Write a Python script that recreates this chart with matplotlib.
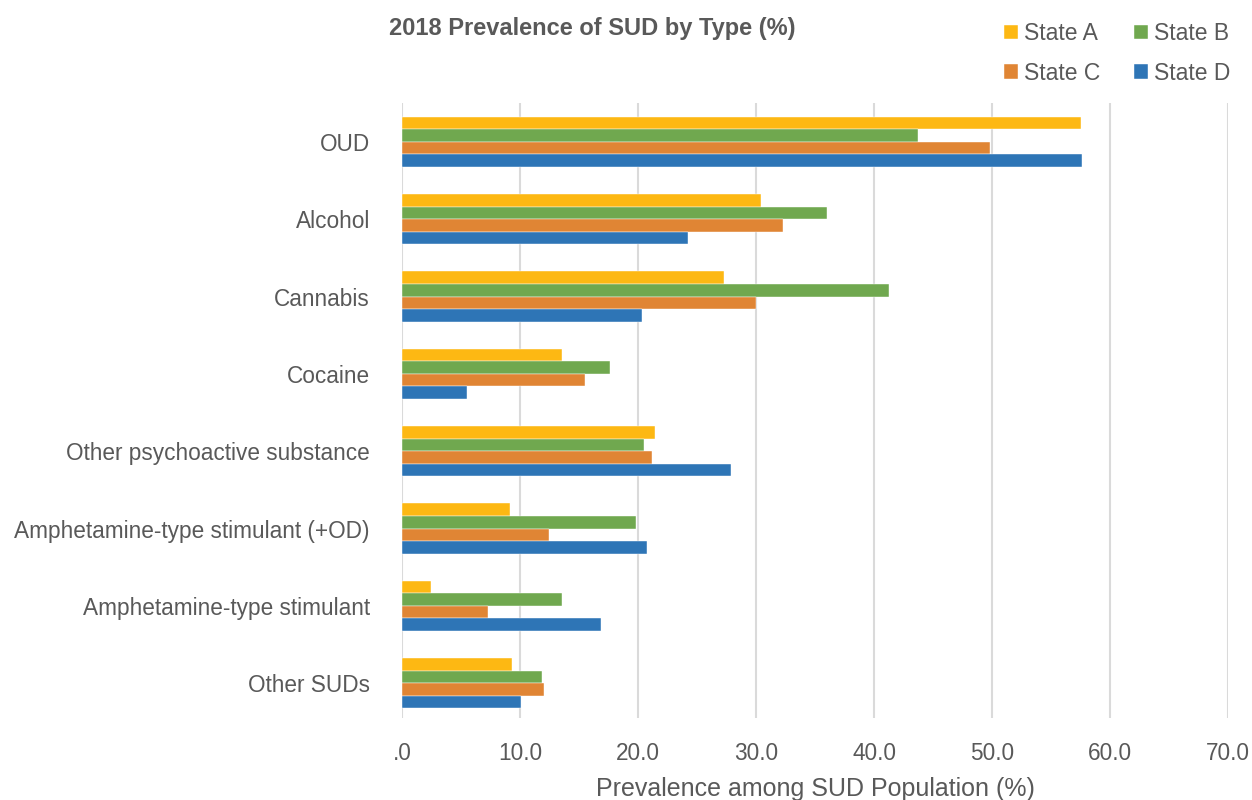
import matplotlib.pyplot as plt
from matplotlib.ticker import FuncFormatter
import numpy as np

categories = ["OUD", "Alcohol", "Cannabis", "Cocaine", "Other psychoactive substance",
              "Amphetamine-type stimulant (+OD)", "Amphetamine-type stimulant", "Other SUDs"]
state_a = [57.5, 30.4, 27.3, 13.6, 21.4, 9.2, 2.5, 9.3]
state_b = [43.7, 36.0, 41.3, 17.6, 20.5, 19.8, 13.6, 11.9]
state_c = [49.8, 32.3, 30.0, 15.5, 21.2, 12.5, 7.3, 12.0]
state_d = [57.6, 24.2, 20.3, 5.5, 27.9, 20.8, 16.9, 10.1]
series_names = ["State A", "State B", "State C", "State D"]
colors = ["#FDB813", "#70A84F", "#E08534", "#2E75B6"]

plt.rcParams['font.family'] = ['Liberation Sans', 'DejaVu Sans']
GREY = "#595959"

fig = plt.figure(figsize=(12.52, 8), dpi=100)
ax = fig.add_axes([0.321, 0.1025, 0.66, 0.7685])

y = np.arange(len(categories))
h = 0.163
bars = []
for k, (vals, name, col) in enumerate(zip([state_a, state_b, state_c, state_d], series_names, colors)):
    b = ax.barh(y + (k - 1.5) * h, vals, height=h, color=col, label=name,
                edgecolor="white", linewidth=0.3, zorder=3)
    bars.append(b)

ax.set_ylim(7.45, -0.5)
ax.set_xlim(0, 70)
ax.set_xticks(np.arange(0, 71, 10))
ax.xaxis.set_major_formatter(FuncFormatter(lambda v, p: ".0" if v == 0 else f"{v:.1f}"))
ax.set_yticks(y)
ax.set_yticklabels(categories)
ax.grid(axis="x", color="#DADADA", linewidth=1.5, zorder=0)
for s in ax.spines.values():
    s.set_visible(False)
ax.tick_params(axis="both", length=0, colors=GREY, labelsize=16.3)
ax.tick_params(axis="y", pad=23)
ax.tick_params(axis="x", pad=17)
ax.set_xlabel("Prevalence among SUD Population (%)", fontsize=18, color=GREY, labelpad=9)

fig.text(0.311, 0.965, "2018 Prevalence of SUD by Type (%)", fontsize=17, fontweight="bold",
         color=GREY, va="center", ha="left")

handles = [bars[0], bars[2], bars[1], bars[3]]
labels = [series_names[0], series_names[2], series_names[1], series_names[3]]
leg = fig.legend(handles, labels, ncol=2, loc="upper right", bbox_to_anchor=(0.999, 0.998),
                 frameon=False, fontsize=16.5, handlelength=0.6, handleheight=0.6,
                 handletextpad=0.25, columnspacing=1.5, labelspacing=0.72)
for t in leg.get_texts():
    t.set_color(GREY)

fig.savefig("out.png", dpi=100)
